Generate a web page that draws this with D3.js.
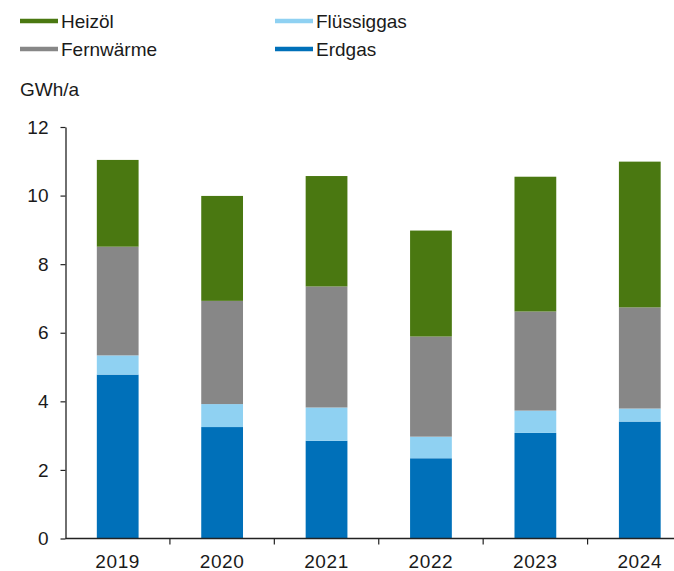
<!DOCTYPE html>
<html>
<head>
<meta charset="utf-8">
<script src="https://cdn.jsdelivr.net/npm/d3@7"></script>
<style>
  body { margin: 0; background: #fff; }
  text { font-family: "Liberation Sans", Arial, sans-serif; fill: #1a1a1a; }
</style>
</head>
<body>
<div id="chart"></div>
<script>
var width = 674,
  height = 571,
  axisX = 65.5,
  axisEnd = 692;

var years = ['2019', '2020', '2021', '2022', '2023', '2024'];
var erdgas = [4.78, 3.25, 2.85, 2.34, 3.08, 3.41];
var fluessiggas = [0.56, 0.67, 0.97, 0.63, 0.65, 0.38];
var fernwaerme = [3.17, 3.01, 3.53, 2.92, 2.89, 2.95];
var heizoel = [2.53, 3.06, 3.22, 3.09, 3.93, 4.25];
var yTicks = [0, 2, 4, 6, 8, 10, 12];

var keys = ['Erdgas', 'Flüssiggas', 'Fernwärme', 'Heizöl'];
var colors = {
  'Erdgas': '#0070b9',
  'Flüssiggas': '#8fd1f2',
  'Fernwärme': '#878787',
  'Heizöl': '#4a7811'
};

// build rows for the stack
var rows = years.map(function (y, i) {
  return {
    year: y,
    'Erdgas': erdgas[i],
    'Flüssiggas': fluessiggas[i],
    'Fernwärme': fernwaerme[i],
    'Heizöl': heizoel[i]
  };
});

var series = d3.stack().keys(keys)(rows);

var svg = d3.select('#chart')
  .append('svg')
  .attr('width', width)
  .attr('height', height);

var xScale = d3.scaleBand()
  .domain(years)
  .range([axisX, axisEnd])
  .paddingInner(0.6)
  .paddingOuter(0.3);

var yScale = d3.scaleLinear()
  .domain([0, 12])
  .range([538.5, 127]);

// bars
svg.selectAll('g.layer')
  .data(series)
  .enter()
  .append('g')
  .attr('class', 'layer')
  .attr('fill', function (d) { return colors[d.key]; })
  .selectAll('rect')
  .data(function (d) { return d; })
  .enter()
  .append('rect')
  .attr('x', function (d) { return xScale(d.data.year); })
  .attr('width', xScale.bandwidth())
  .attr('y', function (d) { return yScale(d[1]); })
  .attr('height', function (d) { return yScale(d[0]) - yScale(d[1]); });

// y axis
var yAxis = d3.axisLeft(yScale)
  .tickValues(yTicks)
  .tickSize(5)
  .tickSizeOuter(0)
  .tickPadding(12)
  .tickFormat(d3.format('d'));

var gy = svg.append('g')
  .attr('class', 'axis y')
  .attr('transform', 'translate(' + axisX + ',0)')
  .call(yAxis);
gy.select('.domain').attr('stroke', '#222').attr('stroke-width', 1.3);
gy.selectAll('.tick line').attr('stroke', '#222').attr('stroke-width', 1.2);
gy.selectAll('.tick text')
  .style('font-size', '19px')
  .style('font-family', '"Liberation Sans", Arial, sans-serif')
  .attr('fill', '#1a1a1a');

// x axis: line with ticks between categories
var step = (axisEnd - axisX) / years.length;
var gx = svg.append('g').attr('class', 'axis x');
gx.append('line')
  .attr('x1', axisX).attr('x2', axisEnd)
  .attr('y1', yScale(0)).attr('y2', yScale(0))
  .attr('stroke', '#222').attr('stroke-width', 1.3);
gx.selectAll('line.tick')
  .data(d3.range(1, years.length))
  .enter()
  .append('line')
  .attr('class', 'tick')
  .attr('x1', function (i) { return axisX + i * step; })
  .attr('x2', function (i) { return axisX + i * step; })
  .attr('y1', yScale(0)).attr('y2', yScale(0) + 6)
  .attr('stroke', '#222').attr('stroke-width', 1.2);
gx.selectAll('text')
  .data(years)
  .enter()
  .append('text')
  .attr('x', function (d) { return xScale(d) + xScale.bandwidth() / 2; })
  .attr('y', 568)
  .attr('text-anchor', 'middle')
  .style('font-size', '19px')
  .style('letter-spacing', '0.6px')
  .text(function (d) { return d; });

// unit label
svg.append('text')
  .attr('x', 20)
  .attr('y', 96)
  .style('font-size', '19px')
  .text('GWh/a');

// legend
var legendItems = [
  { key: 'Heizöl', x: 20, y: 21 },
  { key: 'Fernwärme', x: 20, y: 49 },
  { key: 'Flüssiggas', x: 275, y: 21 },
  { key: 'Erdgas', x: 275, y: 49 }
];
var legend = svg.selectAll('g.legend')
  .data(legendItems)
  .enter()
  .append('g')
  .attr('class', 'legend')
  .attr('transform', function (d) { return 'translate(' + d.x + ',' + d.y + ')'; });
legend.append('line')
  .attr('x1', 0).attr('x2', 38)
  .attr('stroke', function (d) { return colors[d.key]; })
  .attr('stroke-width', 4.5);
legend.append('text')
  .attr('x', 41)
  .attr('y', 6.5)
  .style('font-size', '19px')
  .text(function (d) { return d.key; });
</script>
</body>
</html>
